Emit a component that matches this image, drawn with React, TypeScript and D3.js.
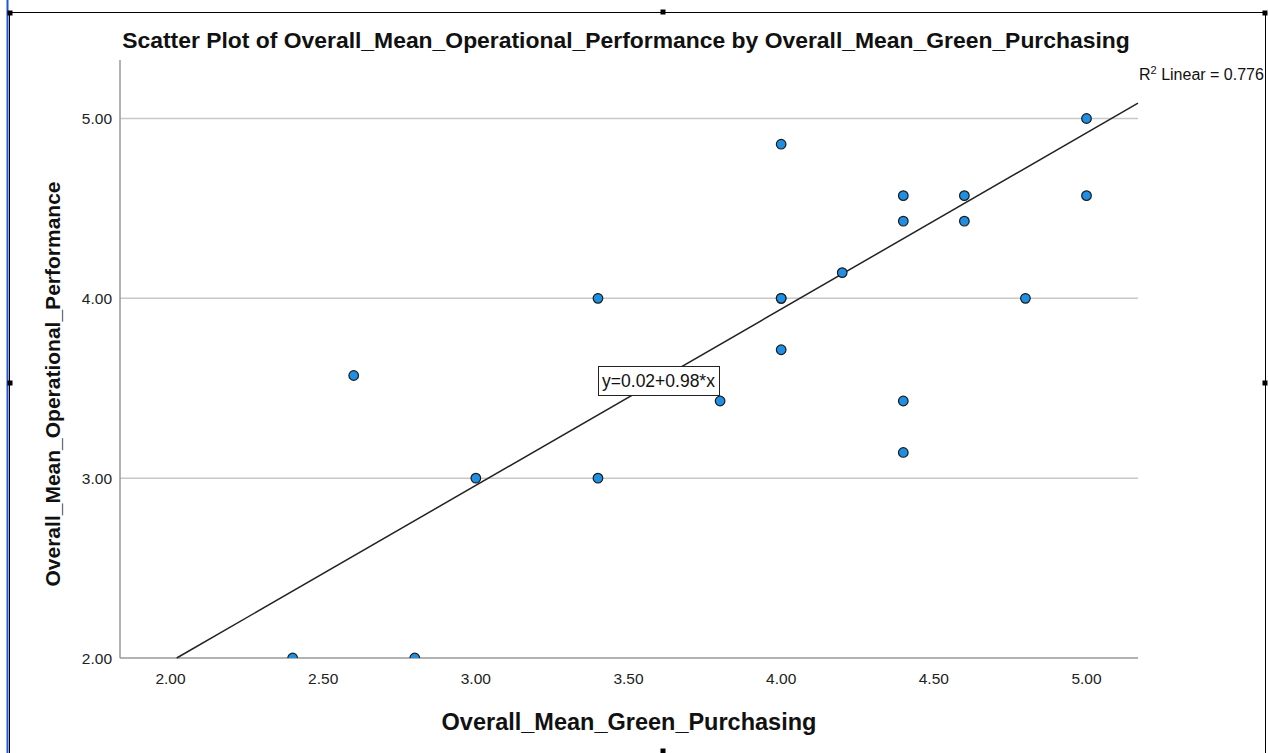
import React from "react";
import * as d3 from "d3";

const greenPurchasing = [2.4, 2.8, 2.6, 3.0, 3.4, 3.4, 3.8, 4.0, 4.0, 4.0, 4.0, 4.2, 4.4, 4.4, 4.4, 4.4, 4.6, 4.6, 4.8, 5.0, 5.0];
const operationalPerf = [2.0, 2.0, 3.571, 3.0, 4.0, 3.0, 3.429, 4.857, 4.0, 4.0, 3.714, 4.143, 4.571, 4.429, 3.429, 3.143, 4.571, 4.429, 4.0, 5.0, 4.571];
const xTicks = [2.0, 2.5, 3.0, 3.5, 4.0, 4.5, 5.0];
const yTicks = [2.0, 3.0, 4.0, 5.0];
const intercept = 0.02;
const slope = 0.98;
const rSquared = 0.776;

const W = 1268;
const H = 753;
const plot = { left: 120, right: 1138, top: 60, bottom: 658 };
const FONT = "'Liberation Sans', Arial, sans-serif";

export default function App() {
  const x = d3.scaleLinear().domain([2.0, 5.0]).range([170.5, 1086.5]);
  const y = d3.scaleLinear().domain([2.0, 5.0]).range([658, 118.5]);
  const x0 = x.invert(plot.left);
  const x1 = x.invert(plot.right);
  const xStart = Math.max(x0, (y.invert(plot.bottom) - intercept) / slope);
  const fitLine = d3.line<number>().x((d) => x(d)).y((d) => y(intercept + slope * d));
  const handles: [number, number][] = [
    [10, 13], [663, 12], [1265, 13], [10, 383], [1265, 383], [663, 751],
  ];
  return (
    <svg width={W} height={H} style={{ position: "absolute", left: 0, top: 0, background: "#fff" }} fontFamily={FONT}>
      <defs>
        <clipPath id="plotclip">
          <rect x={plot.left} y={plot.top} width={plot.right - plot.left} height={plot.bottom - plot.top} />
        </clipPath>
      </defs>
      {/* frame */}
      <line x1={7.5} x2={7.5} y1={0} y2={H} stroke="#1f55d6" strokeWidth={2} />
      <rect x={9.5} y={12.5} width={1256} height={760} fill="none" stroke="#000" strokeWidth={1} />
      {handles.map(([hx, hy], i) => (
        <rect key={i} x={hx - 2.5} y={hy - 2.5} width={5} height={5} fill="#000" />
      ))}
      {/* title */}
      <text x={626} y={48} textAnchor="middle" fontSize={22.9} fontWeight="bold" fill="#111">
        Scatter Plot of Overall_Mean_Operational_Performance by Overall_Mean_Green_Purchasing
      </text>
      {/* gridlines */}
      {yTicks.filter((t) => t > 2).map((t) => (
        <line key={t} x1={plot.left} x2={plot.right} y1={y(t)} y2={y(t)} stroke="#c8c8c8" strokeWidth={1.5} />
      ))}
      {/* axes */}
      <line x1={plot.left} x2={plot.left} y1={plot.top} y2={plot.bottom} stroke="#999" strokeWidth={1.5} />
      <line x1={plot.left} x2={plot.right} y1={plot.bottom} y2={plot.bottom} stroke="#999" strokeWidth={1.5} />
      {yTicks.map((t) => (
        <text key={t} x={112} y={y(t) + 5.5} textAnchor="end" fontSize={15.5} fill="#222">
          {t.toFixed(2)}
        </text>
      ))}
      {xTicks.map((t) => (
        <text key={t} x={x(t)} y={683.5} textAnchor="middle" fontSize={15.5} fill="#222">
          {t.toFixed(2)}
        </text>
      ))}
      <text x={629} y={730} textAnchor="middle" fontSize={23.5} fontWeight="bold" fill="#111">
        Overall_Mean_Green_Purchasing
      </text>
      <text transform={`translate(60,384) rotate(-90)`} textAnchor="middle" fontSize={21} fontWeight="bold" fill="#111">
        Overall_Mean_Operational_Performance
      </text>
      {/* fit line */}
      <path d={fitLine([xStart, x1]) || ""} stroke="#222" strokeWidth={1.5} fill="none" />
      {/* points */}
      <g clipPath="url(#plotclip)">
        {greenPurchasing.map((gx, i) => (
          <circle key={i} cx={x(gx)} cy={y(operationalPerf[i])} r={4.8} fill="#1f8fe3" stroke="#1a1a1a" strokeWidth={1.2} />
        ))}
      </g>
      {/* equation box */}
      <rect x={598.5} y={366.5} width={121} height={29} fill="#fff" stroke="#222" strokeWidth={1} />
      <text x={658.5} y={387} textAnchor="middle" fontSize={17.5} fill="#111">y=0.02+0.98*x</text>
      {/* R2 label */}
      <text x={1139} y={80} fontSize={16} fill="#111">
        R<tspan dy={-6} fontSize={11}>2</tspan>
        <tspan dy={6}> Linear = {rSquared.toFixed(3)}</tspan>
      </text>
    </svg>
  );
}
